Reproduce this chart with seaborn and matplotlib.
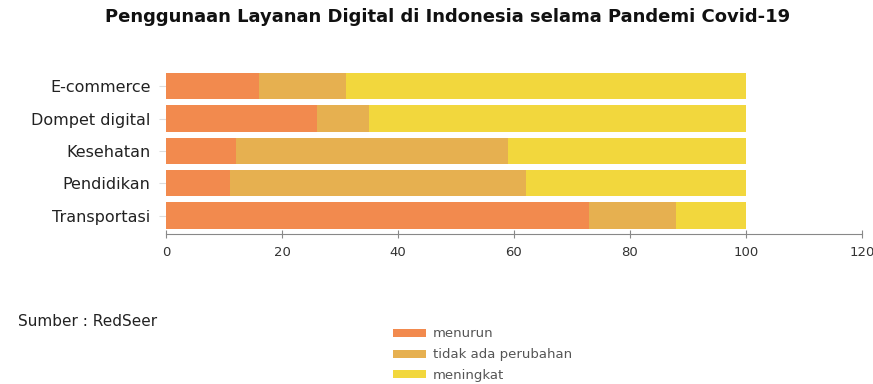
import matplotlib
matplotlib.use("Agg")
from matplotlib import pyplot as plt
from matplotlib.patches import Patch
import seaborn as sns
import pandas as pd

# data
layanan = ["E-commerce", "Dompet digital", "Kesehatan", "Pendidikan", "Transportasi"]
menurun = [16, 26, 12, 11, 73]
tidak_ada_perubahan = [15, 9, 47, 51, 15]
meningkat = [69, 65, 41, 38, 12]

seri = ["menurun", "tidak ada perubahan", "meningkat"]
warna = ["#F28A4E", "#E6B050", "#F2D73D"]

df = pd.DataFrame({"layanan": layanan, "menurun": menurun,
                   "tidak ada perubahan": tidak_ada_perubahan, "meningkat": meningkat})
# cumulative for stacking
df["c1"] = df["menurun"]
df["c2"] = df["c1"] + df["tidak ada perubahan"]
df["c3"] = df["c2"] + df["meningkat"]

sns.set_style("white")
plt.rcParams["font.family"] = ["DejaVu Sans"]

fig = plt.figure(figsize=(8.73, 3.84), dpi=100)
ax = fig.add_axes([166 / 873, 1 - 234 / 384, (862 - 166) / 873, (234 - 70) / 384])

for col, c in zip(["c3", "c2", "c1"], warna[::-1]):
    sns.barplot(data=df, x=col, y="layanan", color=c, width=0.82,
                orient="h", ax=ax, saturation=1, linewidth=0)

ax.set_xlim(0, 120)
ax.set_ylim(4.57, -0.5)
ax.set_xticks([0, 20, 40, 60, 80, 100, 120])
ax.set_xlabel("")
ax.set_ylabel("")
for s in ["top", "right", "left"]:
    ax.spines[s].set_visible(False)
ax.spines["bottom"].set_color("#888888")
ax.spines["bottom"].set_linewidth(0.8)
ax.tick_params(axis="x", length=6, direction="inout", color="#888888", labelsize=9.5,
               labelcolor="#333333", pad=6, bottom=True)
ax.tick_params(axis="y", length=5, color="#dddddd", labelsize=11.5, labelcolor="#222222",
               pad=6, left=True)

fig.text(448 / 873, 1 - 17 / 384, "Penggunaan Layanan Digital di Indonesia selama Pandemi Covid-19",
         ha="center", va="center", fontsize=13, fontweight="bold", color="#111111")
fig.text(18 / 873, 1 - 322 / 384, "Sumber : RedSeer", ha="left", va="center",
         fontsize=11, color="#222222")

handles = [Patch(facecolor=c, edgecolor="none") for c in warna]
fig.legend(handles, seri, loc="upper left", bbox_to_anchor=(388 / 873, 1 - 322 / 384),
           frameon=False, fontsize=9.5, labelcolor="#555555", handlelength=2.5,
           handleheight=0.55, labelspacing=0.6, handletextpad=0.5, borderaxespad=0)

fig.savefig("out.png", dpi=100)
